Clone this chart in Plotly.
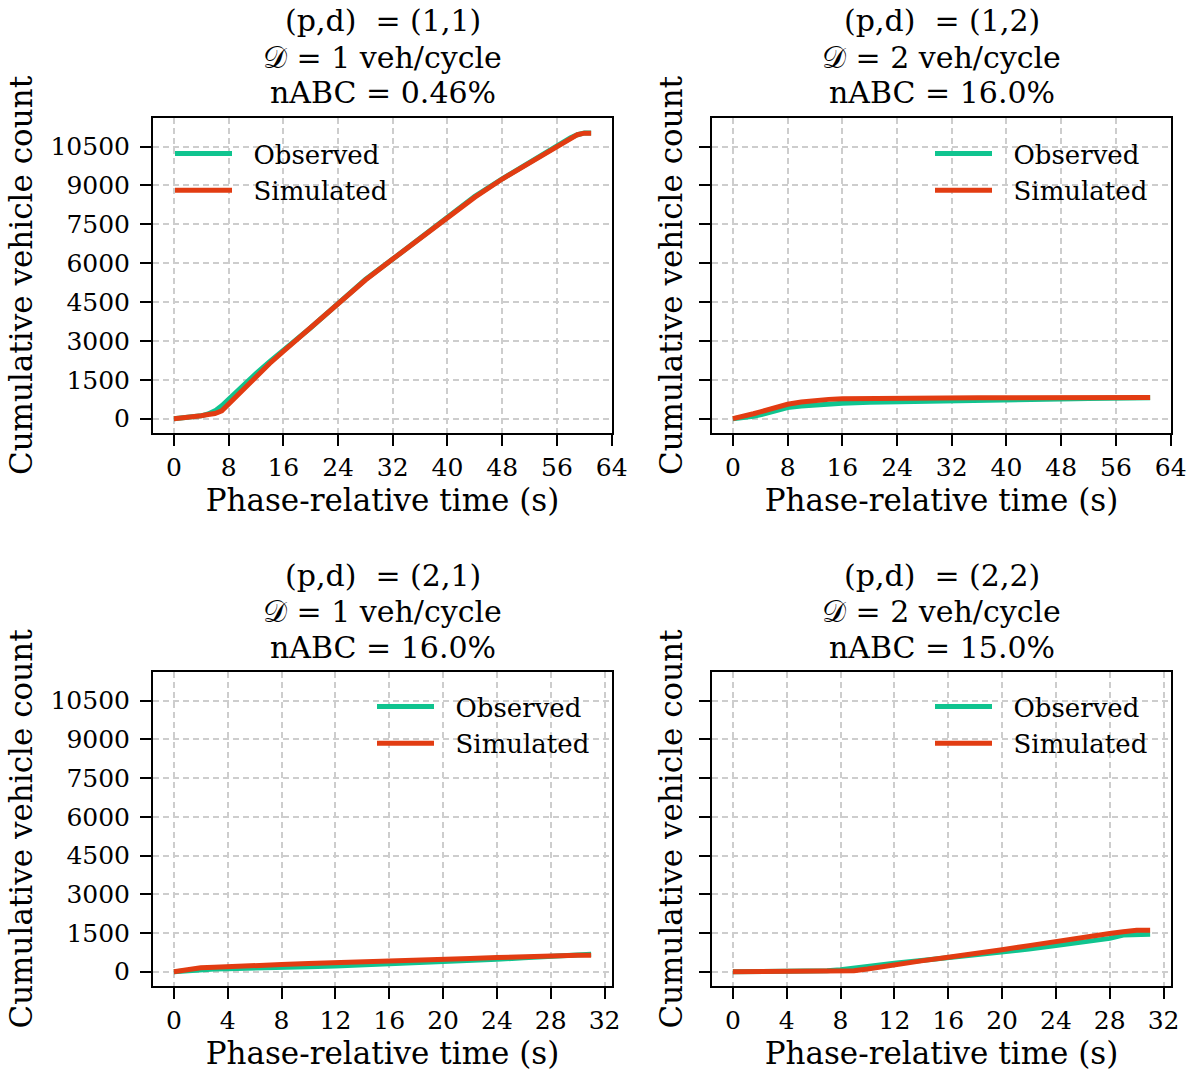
import plotly.graph_objects as go

# ---------------- data ----------------
t_long = [0, 2, 4, 5, 6, 7, 8, 10, 12, 14, 16, 20, 24, 28, 32, 36, 40, 44, 48, 50, 52, 54, 56, 58, 59, 60, 61]
obs_11 = [0, 40, 110, 180, 300, 500, 760, 1270, 1740, 2200, 2620, 3510, 4440, 5370, 6160, 6960, 7800, 8580, 9260, 9580, 9860, 10180, 10520, 10840, 10960, 11030, 11030]
sim_11 = [0, 40, 110, 160, 200, 300, 560, 1120, 1640, 2130, 2600, 3520, 4450, 5350, 6160, 6950, 7760, 8550, 9250, 9560, 9850, 10160, 10510, 10830, 10960, 11020, 11020]

t_long2 = [0, 2, 3, 4, 6, 8, 10, 12, 14, 16, 20, 24, 28, 32, 36, 40, 44, 48, 52, 56, 61]
obs_12 = [0, 50, 90, 150, 300, 428, 490, 540, 570, 592, 630, 655, 675, 690, 705, 725, 745, 760, 775, 790, 806]
sim_12 = [0, 100, 190, 260, 420, 555, 640, 705, 745, 770, 785, 792, 796, 800, 803, 806, 809, 812, 815, 818, 820]

t_short = [0, 1, 2, 3, 4, 5, 6, 7, 8, 10, 12, 14, 16, 18, 20, 22, 24, 26, 28, 29, 30, 31]
obs_21 = [0, 50, 90, 105, 115, 120, 125, 128, 154, 190, 225, 260, 295, 340, 385, 430, 480, 540, 610, 650, 675, 680]
sim_21 = [0, 90, 150, 175, 190, 200, 210, 218, 275, 320, 360, 400, 436, 460, 487, 515, 550, 590, 628, 640, 641, 641]

t_short2 = [0, 2, 4, 6, 7, 8, 9, 10, 12, 14, 16, 18, 20, 22, 24, 26, 28, 29, 30, 31]
obs_22 = [0, 0, 5, 20, 40, 80, 130, 196, 326, 430, 535, 645, 756, 880, 1010, 1140, 1290, 1420, 1448, 1448]
sim_22 = [0, 0, 0, 0, 0, 0, 40, 104, 274, 420, 561, 691, 848, 1010, 1180, 1330, 1480, 1550, 1604, 1604]

title_lines = [
    ["(p,d)  = (1,1)", "𝒟 = 1 veh/cycle", "nABC = 0.46%"],
    ["(p,d)  = (1,2)", "𝒟 = 2 veh/cycle", "nABC = 16.0%"],
    ["(p,d)  = (2,1)", "𝒟 = 1 veh/cycle", "nABC = 16.0%"],
    ["(p,d)  = (2,2)", "𝒟 = 2 veh/cycle", "nABC = 15.0%"],
]
y_ticks = [0, 1500, 3000, 4500, 6000, 7500, 9000, 10500]
y_tick_text = ["0", "1500", "3000", "4500", "6000", "7500", "9000", "10500"]
x_ticks_long = [0, 8, 16, 24, 32, 40, 48, 56, 64]
x_ticks_short = [0, 4, 8, 12, 16, 20, 24, 28, 32]
series_names = ["\u00a0\u00a0Observed", "\u00a0\u00a0Simulated"]

OBS_COLOR = "#10c48f"
SIM_COLOR = "#e23c12"
FONT = "DejaVu Serif"
W, H = 1196, 1074

# axes boxes in pixels: (left, right, top, bottom)
boxes = [(153, 612, 118, 433), (712, 1171, 118, 433), (153, 612, 672, 986), (712, 1171, 672, 986)]
panels = [
    (t_long, obs_11, sim_11, x_ticks_long, [-3.05, 64.05]),
    (t_long2, obs_12, sim_12, x_ticks_long, [-3.05, 64.05]),
    (t_short, obs_21, sim_21, x_ticks_short, [-1.55, 32.55]),
    (t_short2, obs_22, sim_22, x_ticks_short, [-1.55, 32.55]),
]
# legend anchors (pixels, top-left corner)
legend_pos = [(170, 130), (930, 130), (372, 683), (930, 683)]
title_offsets = [97, 61, 25]  # distance of each title line centre above the axes top

fig = go.Figure()
layout = dict(
    width=W, height=H, margin=dict(l=0, r=0, t=0, b=0, autoexpand=False),
    paper_bgcolor="white", plot_bgcolor="white",
    font=dict(family=FONT, color="black", size=25),
    annotations=[],
)

for i, ((tx, obs, sim, xt, xr), (l, r, t, b)) in enumerate(zip(panels, boxes)):
    n = "" if i == 0 else str(i + 1)
    leg = "legend" + n
    left_col = i % 2 == 0
    fig.add_trace(go.Scatter(x=tx, y=obs, mode="lines", name=series_names[0],
                             line=dict(color=OBS_COLOR, width=5),
                             xaxis="x" + n, yaxis="y" + n, legend=leg))
    fig.add_trace(go.Scatter(x=tx, y=sim, mode="lines", name=series_names[1],
                             line=dict(color=SIM_COLOR, width=5),
                             xaxis="x" + n, yaxis="y" + n, legend=leg))
    common = dict(showline=True, linecolor="black", linewidth=2, mirror=True,
                  ticks="outside", ticklen=11, tickwidth=2, tickcolor="black",
                  showgrid=True, gridcolor="#cdcdcd", griddash="6px,4px", gridwidth=1.5,
                  zeroline=False, automargin=False, tickfont=dict(size=25, family=FONT))
    layout["xaxis" + n] = dict(common, domain=[l / W, r / W], range=xr,
                               tickvals=xt, anchor="y" + n,
                               title=dict(text="Phase-relative time (s)", font=dict(size=31), standoff=8))
    layout["yaxis" + n] = dict(common, domain=[1 - b / H, 1 - t / H], range=[-553, 11605],
                               tickvals=y_ticks, ticktext=y_tick_text, anchor="x" + n,
                               showticklabels=left_col, ticklabelstandoff=5,
                               title=dict(text="Cumulative vehicle count", font=dict(size=31),
                                          standoff=9 if left_col else 7))
    lx, ly = legend_pos[i]
    layout[leg] = dict(x=lx / W, y=1 - ly / H, xanchor="left", yanchor="top",
                       bgcolor="rgba(255,255,255,0)", font=dict(size=26, family=FONT),
                       itemwidth=57, tracegroupgap=0)
    for line_text, off in zip(title_lines[i], title_offsets):
        layout["annotations"].append(dict(
            text=line_text, x=(l + r) / 2 / W, y=1 - (t - off) / H, xref="paper", yref="paper",
            xanchor="center", yanchor="middle", showarrow=False,
            font=dict(size=30, family=FONT)))

fig.update_layout(**layout)
fig.write_html("out.html", config={"displayModeBar": False},
               post_script="document.body.style.margin='0';")
